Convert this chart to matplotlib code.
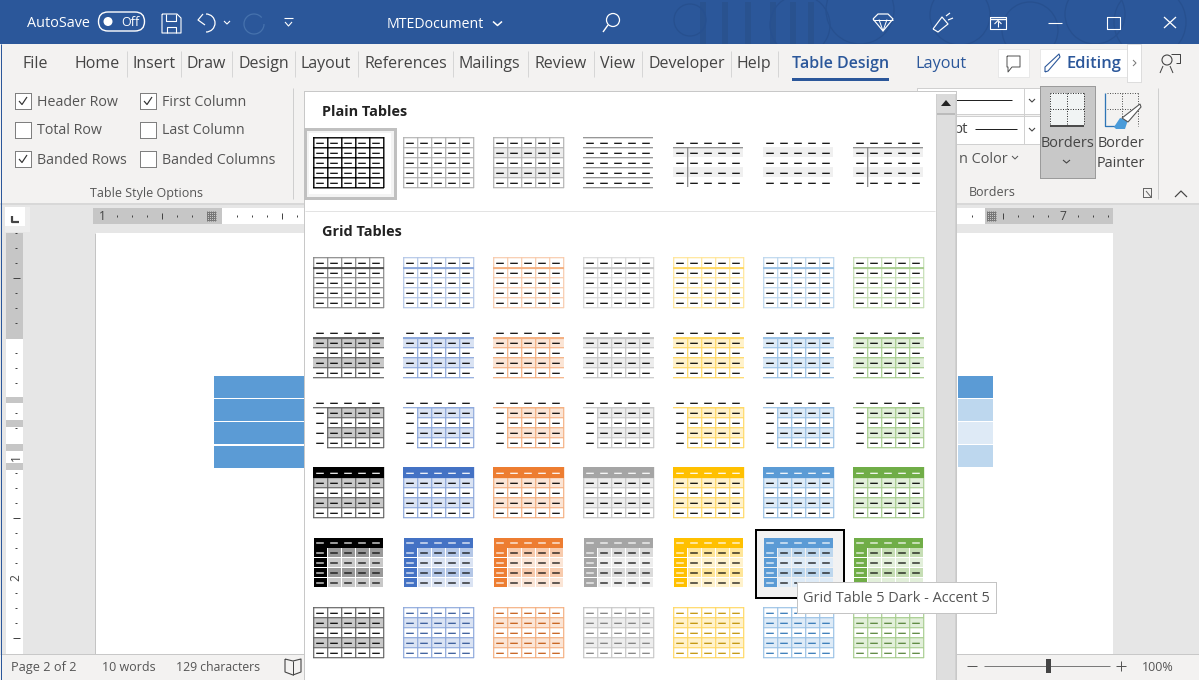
import matplotlib
matplotlib.use("Agg")
import matplotlib.pyplot as plt
from matplotlib.patches import Rectangle, Circle, Polygon, Arc, FancyBboxPatch
from matplotlib.colors import to_rgb

# ---------- content ----------
TAB_LABELS = ["File", "Home", "Insert", "Draw", "Design", "Layout", "References",
              "Mailings", "Review", "View", "Developer", "Help"]
CHECK_LABELS_LEFT = ["Header Row", "Total Row", "Banded Rows"]
CHECK_STATE_LEFT = [True, False, True]
CHECK_LABELS_RIGHT = ["First Column", "Last Column", "Banded Columns"]
CHECK_STATE_RIGHT = [True, False, False]
ACCENTS = ["#000000", "#4472C4", "#ED7D31", "#A5A5A5", "#FFC000", "#5B9BD5", "#70AD47"]
ACCENT_DARK = ["#000000", "#2F5496", "#C45911", "#7B7B7B", "#BF8F00", "#2E74B5", "#538135"]
STATUS_LEFT = ["Page 2 of 2", "10 words", "129 characters"]
TOOLTIP = "Grid Table 5 Dark - Accent 5"

# ---------- layout ----------
TAB_X = [22, 75, 133, 187, 238, 301, 365, 459, 535, 600, 648, 737]
TAB_SEP_X = [127, 181, 232, 295, 358, 453, 528, 594, 642, 731, 778]
CHECK_Y = [101, 130, 159]
THUMB_X = [313, 403, 493, 583, 673, 763, 853]
STATUS_X = [11, 102, 176]
RULER_H_DOTS = [117, 132, 147, 177, 192, 237, 252, 267, 297, 972, 1018, 1033, 1048, 1078, 1093, 1108]
RULER_H_LONG = [162, 282, 1003]
RULER_V_DOTS = [233, 248, 263, 293, 308, 323, 353, 368, 383, 413, 428, 473, 488, 503, 533, 548, 563, 593, 608, 623]
RULER_V_LONG = [278, 518, 638]
RULER_V_GRAY = [(233, 339), (397, 403), (420, 427), (444, 451), (463, 470)]
LEFT_TABLE_ROWS = [(376, 398), (399, 421), (422, 444), (446, 468)]
RIGHT_TABLE_ROWS = [(376, 398, "#5B9BD5"), (399, 421, "#BDD7EE"), (422, 444, "#DEEAF6"), (445, 467, "#BDD7EE")]

W, H = 1199, 680
BLUE = "#2B579A"
RIB = "#F3F2F1"
FONT = ["Open Sans", "DejaVu Sans"]
TXT = "#444444"

fig = plt.figure(figsize=(W / 100, H / 100), dpi=100)
ax = fig.add_axes([0, 0, 1, 1])
ax.set_xlim(0, W)
ax.set_ylim(H, 0)
ax.axis("off")


def R(x0, y0, x1, y1, fc="none", ec="none", lw=0.0, z=1, aa=False):
    ax.add_patch(Rectangle((x0, y0), x1 - x0, y1 - y0, facecolor=fc, edgecolor=ec,
                           linewidth=lw * 0.72, zorder=z, antialiased=aa))


def L(xs, ys, c="#000000", lw=1.0, z=2, **kw):
    kw.setdefault("solid_capstyle", "butt")
    ax.plot(xs, ys, color=c, lw=lw * 0.72, zorder=z, **kw)


def Hl(x0, x1, y, c, px=1.2, z=2):
    """slightly soft horizontal rule starting at pixel row y"""
    L([x0, x1], [y + px / 2 + .1] * 2, c, px, z, snap=False)


def Vl(x, y0, y1, c, px=1.2, z=2):
    """slightly soft vertical rule starting at pixel column x"""
    L([x + px / 2 + .1] * 2, [y0, y1], c, px, z, snap=False)


def T(x, y, s, px=15.0, c=TXT, ha="left", w="normal", z=5, rot=0):
    ax.text(x, y + (0 if rot else 2.5), s, fontsize=px * 0.72, color=c, ha=ha, va="center",
            fontweight=w, family=FONT, zorder=z, rotation=rot)


def tint(col, t):
    r = to_rgb(col)
    return tuple(v * (1 - t) + t for v in r)


# ---------- window base ----------
R(0, 0, W, H, fc="#E6E6E6", z=0)
title_bg = Rectangle((0, 0), W, 44, facecolor=BLUE, edgecolor="none", zorder=1, antialiased=False)
ax.add_patch(title_bg)
R(0, 44, W, 203, fc=RIB, z=1)
L([0, W], [203.5, 203.5], "#D4D4D4", 1.5)
R(95, 233, 1113, 654, fc="#FFFFFF", z=1)
L([94.5, 94.5], [233, 654], "#C4C4C4", 1)
L([1, 1], [44, 680], "#2B579A", 1, z=9)

# title-bar pattern
PAT = "#27508F"
for cx, cy, r in [(690, 20, 16), (800, 25, 30), (860, 10, 34), (960, 15, 30), (1030, 30, 28),
                  (1095, 14, 30), (1150, 22, 36)]:
    a = Arc((cx, cy), 2 * r, 2 * r, color=PAT, lw=0.9, zorder=2)
    ax.add_patch(a)
    a.set_clip_path(title_bg)
for x in [700, 722, 745, 770, 790, 808]:
    R(x, 2, x + 6, 44, fc="#29528F", z=1)

# title-bar content
T(27, 21, "AutoSave", 14.4, "#FFFFFF")
ax.add_patch(FancyBboxPatch((98.5, 12), 46, 19, boxstyle="round,pad=0,rounding_size=9.5", fc="none",
                            ec="#FFFFFF", lw=1.0, zorder=3))
ax.add_patch(Circle((108, 21.5), 4.5, fc="#FFFFFF", ec="none", zorder=3))
T(121, 20.5, "Off", 12.5, "#FFFFFF")
# save icon
L([162, 177, 181, 181, 162, 162], [14, 14, 18, 33, 33, 14], "#FFFFFF", 1.1, z=3)
L([166, 166, 176, 176], [14, 21, 21, 14], "#FFFFFF", 1.1, z=3)
L([167, 167, 176, 176], [33, 27, 27, 33], "#FFFFFF", 1.1, z=3)
# undo
ax.add_patch(Arc((206, 23), 18, 18, theta1=-70, theta2=110, angle=-20, color="#FFFFFF", lw=0.9, zorder=3))
L([203, 198, 205], [14, 20, 25], "#FFFFFF", 1.2, z=3)
L([224, 227, 230], [21, 24, 21], "#FFFFFF", 1.1, z=3)
ax.add_patch(Arc((254, 24), 20, 20, theta1=0, theta2=320, color="#4672AD", lw=0.9, zorder=3))
L([284, 293], [18, 18], "#FFFFFF", 1.1, z=3)
L([285, 288.5, 292], [22, 26, 22], "#FFFFFF", 1.1, z=3)
T(387, 22, "MTEDocument", 14.1, "#FFFFFF")
L([493, 497.5, 502], [21.5, 25.5, 21.5], "#FFFFFF", 1.5, z=3)
# search
ax.add_patch(Circle((613, 20), 6.5, fc="none", ec="#FFFFFF", lw=0.9, zorder=3))
L([608, 603], [25, 32], "#FFFFFF", 1.4, z=3)
# diamond
L([873, 878, 888, 893, 883, 873], [19, 14, 14, 19, 31, 19], "#FFFFFF", 1.2, z=3)
L([873, 893], [19.5, 19.5], "#FFFFFF", 1, z=3)
L([879, 883, 887], [19.5, 31, 19.5], "#FFFFFF", 1, z=3)
# wand
L([933, 942, 948, 938, 933], [29, 17, 24, 32, 29], "#FFFFFF", 1.2, z=3)
L([946, 950], [16, 13], "#FFFFFF", 1.2, z=3)
L([948, 953], [20, 18], "#FFFFFF", 1.2, z=3)
# box
L([990, 1006, 1006, 990, 990], [16.5, 16.5, 28.5, 28.5, 16.5], "#FFFFFF", 1.1, z=3)
L([990, 1006], [18.5, 18.5], "#FFFFFF", 1.4, z=3)
L([998, 998], [27, 21], "#FFFFFF", 1.1, z=3)
L([994.5, 998, 1001.5], [24, 20.5, 24], "#FFFFFF", 1.1, z=3)
L([1048, 1062], [22.5, 22.5], "#FFFFFF", 1.1, z=3)
L([1107, 1120, 1120, 1107, 1107], [16.5, 16.5, 28.5, 28.5, 16.5], "#FFFFFF", 1.1, z=3)
L([1164, 1176], [17, 28], "#FFFFFF", 1.3, z=3)
L([1164, 1176], [28, 17], "#FFFFFF", 1.3, z=3)

# ---------- tabs ----------
for x, s in zip(TAB_X, TAB_LABELS):
    T(x, 62, s, 16, TXT)
for x in TAB_SEP_X:
    L([x, x], [51, 77], "#D6D6D6", 1)
T(792, 62, "Table Design", 16, BLUE, w="semibold")
R(792, 77.5, 889, 81, fc=BLUE, z=3)
T(915, 62, "Layout", 16.3, BLUE)

# comments / editing / share
R(998, 49, 1029, 77, fc="#FFFFFF", ec="#E8E8E8", lw=1, z=2)
L([1007, 1020, 1020, 1012, 1008, 1008, 1007, 1007], [56, 56, 67, 67, 72, 67, 67, 56], "#444444", 0.9, z=3)
R(1040, 49, 1128, 77, fc="#FFFFFF", ec="#E8E8E8", lw=1, z=2)
L([1045, 1045, 1059, 1060, 1048, 1045], [72, 67, 54, 57, 71, 72], "#2B579A", 1.1, z=3)
T(1067, 62, "Editing", 16.5, BLUE, w="semibold")
R(1127, 44, 1141, 82, fc="#FFFFFF", ec="#DDDDDD", lw=1, z=3)
L([1133, 1136, 1133], [60, 63, 66], "#777777", 1, z=4)
ax.add_patch(Circle((1167, 60), 5, fc="none", ec="#444444", lw=0.8, zorder=3))
L([1160, 1163], [73, 66], "#444444", 1, z=3)
L([1173, 1170], [73, 66], "#444444", 1, z=3)
L([1171, 1180, 1180, 1176], [54, 54, 63, 63], "#444444", 1, z=3)

# ---------- checkboxes ----------
for ys, labels, states, xbox in [(CHECK_Y, CHECK_LABELS_LEFT, CHECK_STATE_LEFT, 15),
                                 (CHECK_Y, CHECK_LABELS_RIGHT, CHECK_STATE_RIGHT, 140)]:
    for y, s, st in zip(ys, labels, states):
        R(xbox, y - 8, xbox + 16, y + 8, fc="#FFFFFF", ec="#7F7F7F", lw=1, z=2)
        if st:
            L([xbox + 4, xbox + 7, xbox + 12], [y, y + 3.5, y - 4], "#333333", 1.2, z=3)
        T(xbox + 22, y - 1.5, s, 14.2, "#555555")
T(146, 190.5, "Table Style Options", 12.5, "#555555", ha="center")
L([292.5, 292.5], [88, 199], "#CFCFCF", 1)

# ---------- right ribbon ----------
R(917, 88, 1040, 114, fc="#FFFFFF", ec="#D0D0D0", lw=1, z=2)
R(917, 116, 1040, 144, fc="#FFFFFF", ec="#D0D0D0", lw=1, z=2)
L([1023.5, 1023.5], [88, 144], "#D0D0D0", 1, z=3)
L([940, 1012], [100, 100], "#222222", 1, z=3)
T(954, 127, "pt", 15, "#444444")
L([975, 1017], [129, 129], "#222222", 1, z=3)
for y in [100, 129]:
    L([1029, 1032, 1035], [y - 1, y + 2, y - 1], "#444444", 1.1, z=3)
T(959, 157, "n Color", 14.5, "#555555")
L([1012, 1015, 1018], [156, 159, 156], "#555555", 1, z=3)
R(1040, 86, 1095, 178, fc="#C8C8C8", ec="#9B9B9B", lw=1, z=2)
R(1050, 93, 1084, 125, fc="#F1F4F4", z=3)
for x in [1050, 1067, 1084]:
    L([x, x], [93, 125], "#333333", 1, z=4, ls=(0, (1, 1.5)))
for y in [93, 109]:
    L([1050, 1084], [y, y], "#333333", 1, z=4, ls=(0, (1, 1.5)))
L([1050, 1084], [125.5, 125.5], "#222222", 1.5, z=4)
T(1067, 141, "Borders", 14.5, "#444444", ha="center")
L([1063, 1066.5, 1070], [160, 163, 160], "#444444", 1.1, z=3)
# border painter
L([1105, 1105, 1122], [93, 126, 126], "#2E75B6", 1.3, z=3)
for x in [1122, 1138]:
    L([x, x], [93, 126], "#555555", 1, z=3, ls=(0, (1, 1.5)))
for y in [93, 109]:
    L([1107, 1138], [y, y], "#555555", 1, z=3, ls=(0, (1, 1.5)))
ax.add_patch(Polygon([[1114, 127], [1120, 118], [1128, 120], [1125, 129], [1116, 129]], fc="#4A9BD9", zorder=4))
ax.add_patch(Polygon([[1122, 118], [1140, 104], [1141, 107], [1128, 122]], fc="#FFFFFF", ec="#555555", lw=0.8, zorder=4))
T(1121, 141, "Border", 14.5, "#444444", ha="center")
T(1121, 161, "Painter", 14.5, "#444444", ha="center")
T(992, 190.5, "Borders", 12.5, "#555555", ha="center")
R(1143, 188, 1151, 197, ec="#666666", lw=1, z=3)
L([1146, 1151], [191, 197], "#666666", 1, z=4)
L([1157.5, 1157.5], [88, 199], "#CFCFCF", 1)
L([1175, 1181, 1187], [197, 191, 197], "#444444", 1.2, z=3)

# ---------- rulers ----------
R(5, 207, 30, 232, fc="#EDEDED", z=1)
R(5, 207, 25, 226, fc="#FFFFFF", z=2)
L([12, 12, 19], [216, 222, 222], "#444444", 2.2, z=3)
R(93, 208, 222, 224, fc="#C6C6C6", z=1)
R(222, 208, 985, 224, fc="#FFFFFF", z=1)
R(985, 208, 1113, 224, fc="#C6C6C6", z=1)
T(102, 214, "1", 12, "#444444", ha="center")
T(1063, 214, "7", 12, "#444444", ha="center")
for x in RULER_H_DOTS:
    L([x, x], [215, 217], "#444444", 1)
for x in RULER_H_LONG:
    L([x, x], [213, 219], "#444444", 1)
for x0 in [207, 987]:
    for k in range(0, 10, 2):
        L([x0, x0 + 9], [211.5 + k, 211.5 + k], "#777777", 1, z=3)
    for k in range(0, 10, 2):
        L([x0 + k, x0 + k], [211, 221], "#777777", 1, z=3)
R(6, 233, 23, 654, fc="#FFFFFF", z=1)
for y0, y1 in RULER_V_GRAY:
    R(6, y0, 23, y1, fc="#C6C6C6", z=1.5)
for y in RULER_V_DOTS:
    L([15, 17], [y, y], "#444444", 1)
for y in RULER_V_LONG:
    L([12.5, 19.5], [y, y], "#444444", 1)
T(16, 458, "1", 12, "#444444", ha="center", rot=90)
T(16, 578, "2", 12, "#444444", ha="center", rot=90)

# ---------- document table fragments ----------
for y0, y1 in LEFT_TABLE_ROWS:
    R(214, y0, 304, y1, fc="#5B9BD5", z=1.5)
for y0, y1, c in RIGHT_TABLE_ROWS:
    R(958, y0, 993, y1, fc=c, z=1.5)

# ---------- status bar ----------
R(0, 654, W, 680, fc=RIB, z=3)
L([0, W], [653.5, 653.5], "#C8C8C8", 1, z=3)
L([0, W], [679.5, 679.5], BLUE, 1, z=3)
for x, s, px in zip(STATUS_X, STATUS_LEFT, [12.8, 12.5, 12.3]):
    T(x, 665, s, px, "#555555")
L([285, 285, 293, 301, 301, 293, 285], [659, 672, 675, 672, 659, 661, 659], "#444444", 1.1, z=4)
L([293, 293], [661, 675], "#444444", 1, z=4)
L([984, 1110], [666, 666], "#7A7A7A", 1, z=4)
L([967, 977], [666, 666], "#555555", 1, z=4)
R(1046, 659, 1051, 673, fc="#444444", z=5)
L([1116, 1126], [666, 666], "#555555", 1, z=4)
L([1121, 1121], [661, 671], "#555555", 1, z=4)
T(1158, 665, "100%", 12.5, "#555555", ha="center")

# ---------- gallery ----------
R(304, 91, 956, 680, fc="#FFFFFF", ec="#C8C8C8", lw=1, z=6)
R(936, 94, 955, 680, fc="#DEDEDE", ec="#D0D0D0", lw=0.5, z=6.1)
R(937, 94, 955, 113, fc="#DADADA", z=6.2)
L([937, 955], [113.5, 113.5], "#B0B0B0", 1.5, z=6.3)
ax.add_patch(Polygon([[941, 106], [951, 106], [946, 100]], fc="#222222", zorder=6.4))
T(322, 109, "Plain Tables", 14.5, "#222222", w="bold", z=7)
T(322, 229, "Grid Tables", 14.5, "#222222", w="bold", z=7)
L([305, 935], [210.5, 210.5], "#E3E3E3", 1, z=7)

TW, TH, CW, RH = 70, 50, 14, 10
Z = 7


def dashes(x, y, c="#000000", rows=range(5), cols=range(5), lw=1.2, inset=3.2, rowc=None, colc=None):
    for i in rows:
        for j in cols:
            col = c
            if rowc is not None and i in rowc:
                col = rowc[i]
            if colc is not None and j in colc:
                col = colc[j]
            yd = y + i * RH + 6.3
            L([x + j * CW + inset, x + (j + 1) * CW - inset], [yd, yd], col, lw, z=Z + .5, snap=False)


def grid(x, y, c, x_from=0, y_from=0, outer_x=True, px=1.2):
    for i in range(y_from, 6):
        Hl(x + x_from * CW, x + TW + 1, y + i * RH, c, px, z=Z + .2)
    for j in range(x_from, 6):
        if not outer_x and j in (0, 5):
            continue
        Vl(x + j * CW, y + y_from * RH, y + TH + 1, c, px, z=Z + .2)


# plain tables row
PY = 137
R(305, 129, 395, 198, fc="#F4F4F4", ec="#C0C0C0", lw=3, z=Z)
R(309, 133, 391, 194, fc="#FFFFFF", z=Z + .05)
grid(313, PY, "#000000", px=1.4)
dashes(313, PY)
grid(THUMB_X[1], PY, "#B4B4B4")
dashes(THUMB_X[1], PY)
for i in (1, 3):
    R(THUMB_X[2], PY + i * RH, THUMB_X[2] + TW, PY + (i + 1) * RH, fc="#EDEDED", z=Z + .1)
grid(THUMB_X[2], PY, "#B4B4B4")
dashes(THUMB_X[2], PY)
for i in range(6):
    Hl(THUMB_X[3], THUMB_X[3] + TW, PY + i * RH, "#8C8C8C", z=Z + .2)
dashes(THUMB_X[3], PY)
for xt, lines in [(THUMB_X[4], True), (THUMB_X[5], False), (THUMB_X[6], True)]:
    for i in (1, 3):
        R(xt, PY + i * RH, xt + TW, PY + (i + 1) * RH, fc="#F0F0F0", z=Z + .1)
    if lines:
        Hl(xt, xt + TW, PY + RH, "#8C8C8C", z=Z + .2)
        Vl(xt + CW, PY + RH, PY + TH, "#8C8C8C", z=Z + .2)
    dashes(xt, PY)

# grid rows
for k, x in enumerate(THUMB_X):
    a = ACCENTS[k]
    d = ACCENT_DARK[k]
    line6 = tint(a, 0.6)
    line4 = tint(a, 0.4)
    band = tint(a, 0.8)
    if k == 0:
        line6 = "#8A8A8A"
        line4 = "#666666"
        band = "#C9C9C9"

    # row 1: light
    y = 257
    grid(x, y, line6)
    Hl(x, x + TW + 1, y + RH, line4 if k else "#555555", 2, z=Z + .3)
    dashes(x, y)

    # row 2
    y = 327
    for i in (1, 3):
        R(x, y + i * RH, x + TW + 1, y + (i + 1) * RH, fc=band, z=Z + .1)
    grid(x, y, line4, y_from=1, outer_x=False)
    Hl(x, x + TW + 1, y + RH, line4, 2, z=Z + .3)
    dashes(x, y)

    # row 3
    y = 397
    for i in (1, 3):
        R(x + CW, y + i * RH, x + TW, y + (i + 1) * RH, fc=band, z=Z + .1)
    grid(x, y, line4, x_from=1, y_from=1)
    Hl(x, x + TW + 1, y + RH, line4, z=Z + .3)
    dashes(x, y)

    # row 4
    y = 467
    for i in (1, 3):
        R(x, y + i * RH, x + TW, y + (i + 1) * RH, fc=band, z=Z + .1)
    grid(x, y, line4)
    R(x, y, x + TW + 1, y + RH + 1, fc=a, z=Z + .3)
    dashes(x, y, rowc={0: "#FFFFFF"})

    # row 5
    y = 538
    xx = x + 1
    if k == 5:
        R(756, 530, 844, 598, fc="#F2F2F2", ec="#000000", lw=2, z=Z)
    R(xx, y, xx + 69, y + 9.5, fc=a, z=Z + .1)
    b1 = tint(a, 0.6) if k else "#9A9A9A"
    b2 = tint(a, 0.8) if k else "#C8C8C8"
    for i in range(4):
        yr = y + 10 + i * 10
        R(xx, yr, xx + 13, yr + 9, fc=a, z=Z + .1)
        for j in range(4):
            x0 = xx + 14 + j * 14
            R(x0, yr, x0 + 13, yr + 9, fc=b1 if i % 2 == 0 else b2, z=Z + .1)
    dashes(x, y - 1.3, rowc={0: "#FFFFFF"}, colc={0: "#FFFFFF"})

    # row 6
    y = 607
    for i in (1, 3):
        R(x, y + i * RH, x + TW, y + (i + 1) * RH, fc=band, z=Z + .1)
    grid(x, y, line4)
    dashes(x, y, c=d)

# tooltip
R(797, 582, 996, 613, fc="#FFFFFF", ec="#C4C4C4", lw=1, z=9)
T(803, 596, TOOLTIP, 14.5, "#555555", z=10)

fig.savefig("out.png", dpi=100, facecolor="#FFFFFF")
